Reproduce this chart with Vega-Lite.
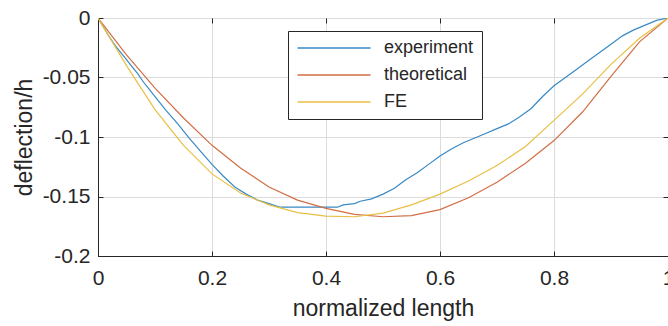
{
  "$schema": "https://vega.github.io/schema/vega-lite/v6.json",
  "width": 570,
  "height": 238,
  "autosize": {"type": "none"},
  "padding": {"left": 98, "top": 18, "right": 0, "bottom": 70},
  "background": "white",
  "config": {
    "font": "Liberation Sans",
    "view": {"stroke": "#262626", "strokeWidth": 1},
    "axis": {
      "domainColor": "#262626",
      "tickColor": "#262626",
      "labelColor": "#262626",
      "titleColor": "#262626",
      "gridColor": "#dcdcdc",
      "labelFont": "Liberation Sans",
      "titleFont": "Liberation Sans",
      "titleFontWeight": "normal"
    }
  },
  "data": {
    "values": [
      {"x": 0, "y": 0, "s": "experiment"},
      {"x": 0.01, "y": -0.008, "s": "experiment"},
      {"x": 0.02, "y": -0.016, "s": "experiment"},
      {"x": 0.03, "y": -0.023, "s": "experiment"},
      {"x": 0.04, "y": -0.029, "s": "experiment"},
      {"x": 0.05, "y": -0.035, "s": "experiment"},
      {"x": 0.06, "y": -0.041, "s": "experiment"},
      {"x": 0.07, "y": -0.047, "s": "experiment"},
      {"x": 0.08, "y": -0.054, "s": "experiment"},
      {"x": 0.09, "y": -0.06, "s": "experiment"},
      {"x": 0.1, "y": -0.066, "s": "experiment"},
      {"x": 0.12, "y": -0.078, "s": "experiment"},
      {"x": 0.14, "y": -0.089, "s": "experiment"},
      {"x": 0.16, "y": -0.101, "s": "experiment"},
      {"x": 0.18, "y": -0.112, "s": "experiment"},
      {"x": 0.2, "y": -0.123, "s": "experiment"},
      {"x": 0.22, "y": -0.133, "s": "experiment"},
      {"x": 0.24, "y": -0.142, "s": "experiment"},
      {"x": 0.26, "y": -0.148, "s": "experiment"},
      {"x": 0.28, "y": -0.153, "s": "experiment"},
      {"x": 0.3, "y": -0.156, "s": "experiment"},
      {"x": 0.32, "y": -0.159, "s": "experiment"},
      {"x": 0.42, "y": -0.159, "s": "experiment"},
      {"x": 0.43, "y": -0.157, "s": "experiment"},
      {"x": 0.45, "y": -0.156, "s": "experiment"},
      {"x": 0.46, "y": -0.154, "s": "experiment"},
      {"x": 0.48, "y": -0.152, "s": "experiment"},
      {"x": 0.5, "y": -0.148, "s": "experiment"},
      {"x": 0.52, "y": -0.143, "s": "experiment"},
      {"x": 0.54, "y": -0.136, "s": "experiment"},
      {"x": 0.56, "y": -0.13, "s": "experiment"},
      {"x": 0.58, "y": -0.123, "s": "experiment"},
      {"x": 0.6, "y": -0.116, "s": "experiment"},
      {"x": 0.62, "y": -0.11, "s": "experiment"},
      {"x": 0.64, "y": -0.105, "s": "experiment"},
      {"x": 0.66, "y": -0.101, "s": "experiment"},
      {"x": 0.68, "y": -0.097, "s": "experiment"},
      {"x": 0.7, "y": -0.093, "s": "experiment"},
      {"x": 0.72, "y": -0.089, "s": "experiment"},
      {"x": 0.74, "y": -0.083, "s": "experiment"},
      {"x": 0.76, "y": -0.076, "s": "experiment"},
      {"x": 0.78, "y": -0.066, "s": "experiment"},
      {"x": 0.8, "y": -0.057, "s": "experiment"},
      {"x": 0.82, "y": -0.05, "s": "experiment"},
      {"x": 0.84, "y": -0.043, "s": "experiment"},
      {"x": 0.86, "y": -0.036, "s": "experiment"},
      {"x": 0.88, "y": -0.029, "s": "experiment"},
      {"x": 0.9, "y": -0.022, "s": "experiment"},
      {"x": 0.92, "y": -0.015, "s": "experiment"},
      {"x": 0.94, "y": -0.01, "s": "experiment"},
      {"x": 0.96, "y": -0.006, "s": "experiment"},
      {"x": 0.98, "y": -0.002, "s": "experiment"},
      {"x": 1, "y": 0, "s": "experiment"},
      {"x": 0, "y": 0, "s": "theoretical"},
      {"x": 0.05, "y": -0.031, "s": "theoretical"},
      {"x": 0.1, "y": -0.059, "s": "theoretical"},
      {"x": 0.15, "y": -0.084, "s": "theoretical"},
      {"x": 0.2, "y": -0.107, "s": "theoretical"},
      {"x": 0.25, "y": -0.126, "s": "theoretical"},
      {"x": 0.3, "y": -0.142, "s": "theoretical"},
      {"x": 0.35, "y": -0.153, "s": "theoretical"},
      {"x": 0.4, "y": -0.16, "s": "theoretical"},
      {"x": 0.45, "y": -0.165, "s": "theoretical"},
      {"x": 0.5, "y": -0.167, "s": "theoretical"},
      {"x": 0.55, "y": -0.166, "s": "theoretical"},
      {"x": 0.6, "y": -0.161, "s": "theoretical"},
      {"x": 0.65, "y": -0.151, "s": "theoretical"},
      {"x": 0.7, "y": -0.138, "s": "theoretical"},
      {"x": 0.75, "y": -0.122, "s": "theoretical"},
      {"x": 0.8, "y": -0.103, "s": "theoretical"},
      {"x": 0.85, "y": -0.079, "s": "theoretical"},
      {"x": 0.9, "y": -0.049, "s": "theoretical"},
      {"x": 0.95, "y": -0.02, "s": "theoretical"},
      {"x": 1, "y": 0, "s": "theoretical"},
      {"x": 0, "y": 0, "s": "FE"},
      {"x": 0.05, "y": -0.04, "s": "FE"},
      {"x": 0.1, "y": -0.077, "s": "FE"},
      {"x": 0.15, "y": -0.107, "s": "FE"},
      {"x": 0.2, "y": -0.131, "s": "FE"},
      {"x": 0.25, "y": -0.147, "s": "FE"},
      {"x": 0.3, "y": -0.157, "s": "FE"},
      {"x": 0.35, "y": -0.1635, "s": "FE"},
      {"x": 0.4, "y": -0.1665, "s": "FE"},
      {"x": 0.45, "y": -0.167, "s": "FE"},
      {"x": 0.5, "y": -0.164, "s": "FE"},
      {"x": 0.55, "y": -0.157, "s": "FE"},
      {"x": 0.6, "y": -0.148, "s": "FE"},
      {"x": 0.65, "y": -0.137, "s": "FE"},
      {"x": 0.7, "y": -0.124, "s": "FE"},
      {"x": 0.75, "y": -0.108, "s": "FE"},
      {"x": 0.8, "y": -0.086, "s": "FE"},
      {"x": 0.85, "y": -0.064, "s": "FE"},
      {"x": 0.9, "y": -0.039, "s": "FE"},
      {"x": 0.95, "y": -0.017, "s": "FE"},
      {"x": 1, "y": 0, "s": "FE"}
    ]
  },
  "resolve": {"axis": {"x": "independent", "y": "independent"}},
  "layer": [
    {
      "mark": {"type": "line", "strokeWidth": 1.2, "clip": true},
      "encoding": {
        "x": {
          "field": "x", "type": "quantitative",
          "scale": {"domain": [0, 1], "nice": false, "zero": false},
          "axis": {
            "values": [0, 0.2, 0.4, 0.6, 0.8, 1],
            "labelExpr": "'' + datum.value",
            "title": "normalized length",
            "titleFontSize": 23,
            "labelFontSize": 21,
            "tickSize": -5,
            "labelPadding": 16,
            "titlePadding": 9,
            "grid": true,
            "labelFlush": false,
            "labelOverlap": false
          }
        },
        "y": {
          "field": "y", "type": "quantitative",
          "scale": {"domain": [-0.2, 0], "nice": false, "zero": false},
          "axis": {
            "values": [-0.2, -0.15, -0.1, -0.05, 0],
            "labelExpr": "'' + datum.value",
            "title": "deflection/h",
            "titleFontSize": 23,
            "labelFontSize": 21,
            "tickSize": -5,
            "labelPadding": 13,
            "titlePadding": 6,
            "grid": true,
            "labelFlush": false,
            "labelOverlap": false
          }
        },
        "color": {
          "field": "s", "type": "nominal",
          "scale": {"domain": ["experiment", "theoretical", "FE"], "range": ["#3a89c4", "#d26e45", "#e8bf45"]},
          "legend": {
            "title": null,
            "orient": "none",
            "legendX": 190,
            "legendY": 13,
            "padding": 8,
            "strokeColor": "#262626",
            "fillColor": "white",
            "symbolType": "M-5,0H5",
            "symbolSize": 213,
            "symbolStrokeWidth": 1.5,
            "symbolOffset": 29,
            "labelOffset": 41,
            "labelFontSize": 18,
            "labelFont": "Liberation Sans",
            "labelColor": "#262626",
            "rowPadding": 9
          }
        }
      }
    },
    {
      "mark": {"type": "line", "opacity": 0, "strokeOpacity": 0},
      "encoding": {
        "x": {
          "field": "x", "type": "quantitative",
          "axis": {
            "orient": "top",
            "values": [0.2, 0.4, 0.6, 0.8],
            "labels": false,
            "domain": false,
            "grid": false,
            "title": null,
            "tickSize": -5
          }
        },
        "y": {
          "field": "y", "type": "quantitative",
          "axis": {
            "orient": "right",
            "values": [-0.15, -0.1, -0.05],
            "labels": false,
            "domain": false,
            "grid": false,
            "title": null,
            "tickSize": -5
          }
        },
        "detail": {"field": "s"}
      }
    }
  ]
}
